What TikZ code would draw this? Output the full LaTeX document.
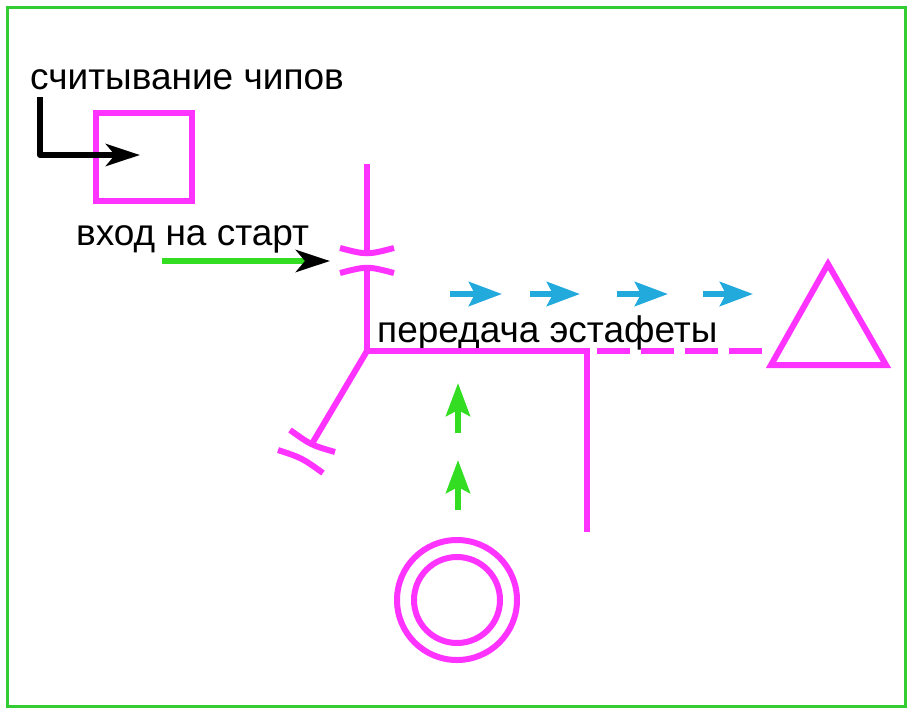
\documentclass[tikz,border=0pt]{standalone}
\usepackage{fontspec}
\setmainfont{Liberation Sans}
\usetikzlibrary{arrows.meta}
\definecolor{coursemag}{HTML}{FF33FF}
\definecolor{frameg}{HTML}{33CC33}
\definecolor{runnerg}{HTML}{33DD22}
\definecolor{relayb}{HTML}{22AADD}
\tikzset{
	course/.style={coursemag, line width=6pt},
	lbl/.style={anchor=base west, inner sep=0pt, font=\fontsize{37}{42}\selectfont},
	bigtip/.style={-{Stealth[length=34pt, width=22pt, inset=9pt, #1]}, line width=6pt},
	bigtip/.default=black,
	smalltip/.style={-{Stealth[length=33pt, width=24pt, inset=6pt]}, line width=6pt},
}
\begin{document}
\begin{tikzpicture}[x=1pt, y=-1pt]
	\useasboundingbox (0,0) rectangle (912,713);
	\draw[frameg, line width=3pt] (7,7) rectangle (905,706);%Rahmen
	
	\node[lbl] (chips) at (30,89) {считывание чипов};
	\node[lbl] (entry) at (76,245) {вход на старт};
	\node[lbl] (relay) at (377,342) {передача эстафеты};
	
	\coordinate (readtop) at (40,97);
	\coordinate (readbend) at (40,155);
	\coordinate (readend) at (140,155);
	\draw[course] (96,113) rectangle (192,201);%Kasten
	\draw[bigtip, line join=round] (readtop) -- (readbend) -- (readend);
	
	\coordinate (entrystart) at (162,261);
	\coordinate (entryend) at (330,261);
	\draw[bigtip, runnerg] (entrystart) -- (entryend);
	
	\coordinate (top) at (367,164);
	\coordinate (gapa) at (367,253);
	\coordinate (gapb) at (367,268);
	\coordinate (junction) at (367,351);
	\coordinate (corner) at (587,351);
	\coordinate (bottom) at (587,532);
	\coordinate (diagend) at (313,442);
	\draw[course] (top) -- (gapa);
	\draw[course] (gapb) -- (junction) -- (corner) -- (bottom);
	\draw[course] (junction) -- (diagend);
	
	% Bruecke oben
	\draw[course] (340,248) .. controls (367,255) .. (394,248);
	\draw[course] (340,273) .. controls (367,266) .. (394,273);
	% Bruecke unten
	\draw[course] (290,430) .. controls (311,445) .. (335,452);
	\draw[course] (278,450) .. controls (302,458) .. (323,473);
	
	\coordinate (dashstart) at (597,351);
	\coordinate (dashend) at (765,351);
	\draw[course, dash pattern=on 33pt off 11pt] (dashstart) -- (dashend);
	\draw[course, line join=miter] (828,264) -- (771,365) -- (886,365) -- cycle;%Ziel
	
	\foreach \a/\b in {450/502, 530/580, 617/668, 703/753}
		\draw[smalltip, relayb] (\a,294) -- (\b,294);
	
	\draw[smalltip, runnerg] (458,433) -- (458,383);
	\draw[smalltip, runnerg] (458,510) -- (458,460);
	
	\coordinate (start) at (457,600);
	\draw[course] (start) circle[radius=60];
	\draw[course] (start) circle[radius=43];
\end{tikzpicture}
\end{document}
